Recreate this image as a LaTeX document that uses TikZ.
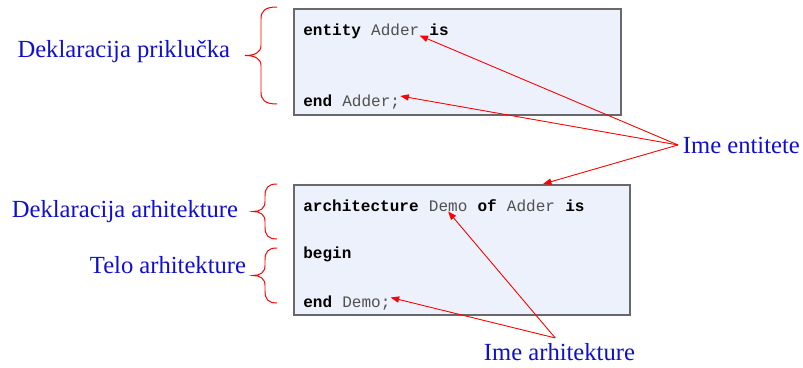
\documentclass[tikz,border=0pt]{standalone}
\usepackage{fontspec}
\setmainfont{Liberation Serif}
\setmonofont{Liberation Mono}
\usetikzlibrary{arrows.meta,calc,positioning}
\definecolor{vhBlue}{RGB}{16,16,204}
\definecolor{vhRed}{RGB}{255,0,0}
\definecolor{vhFill}{RGB}{237,241,251}
\definecolor{vhFrame}{RGB}{105,105,105}
\definecolor{vhIdent}{RGB}{80,80,80}

% curly brace opening to the right: x of the ends, top y, bottom y, depth
\newcommand{\curly}[4]{%
  \draw[brc] (#1,#2)
    .. controls ({#1-0.375*#4},#2) and ({#1-0.5*#4},{#2+4}) .. ({#1-0.5*#4},{#2+12})
    -- ({#1-0.5*#4},{(#2+#3)/2-10})
    .. controls ({#1-0.5*#4},{(#2+#3)/2-3}) and ({#1-0.7*#4},{(#2+#3)/2}) .. ({#1-#4},{(#2+#3)/2})
    .. controls ({#1-0.7*#4},{(#2+#3)/2}) and ({#1-0.5*#4},{(#2+#3)/2+3}) .. ({#1-0.5*#4},{(#2+#3)/2+10})
    -- ({#1-0.5*#4},{#3-12})
    .. controls ({#1-0.5*#4},{#3-4}) and ({#1-0.375*#4},#3) .. (#1,#3);}

\begin{document}
\begin{tikzpicture}[
  x=0.025cm, y=-0.025cm,
  codebox/.style={
    draw=vhFrame, line width=1.1pt, fill=vhFill,
    anchor=north west, inner sep=0pt
  },
  kw/.style={
    anchor=base west, inner sep=0pt,
    font=\fontsize{11.4}{13}\selectfont\ttfamily\bfseries
  },
  ident/.style={
    anchor=base west, inner sep=0pt, text=vhIdent,
    font=\fontsize{11.4}{13}\selectfont\ttfamily
  },
  lbl/.style={text=vhBlue, font=\fontsize{17.5}{20}\selectfont},
  brc/.style={draw=vhRed, line width=0.7pt},
  ptr/.style={-{Triangle[length=6pt,width=4.5pt]}, draw=vhRed, fill=vhRed, line width=0.6pt},
]
\useasboundingbox (0,0) rectangle (803,368);

%% Entity box
\node[codebox, minimum width=8.175cm, minimum height=2.65cm] (ent) at (293,8) {};
\node[kw]    (e-kw1) at ($(ent.north west)+(10,27)$) {entity};
\node[ident] (e-id1) at ([xshift=6.84pt]e-kw1.base east) {Adder};
\node[kw]    (e-kw2) at ([xshift=6.84pt]e-id1.base east) {is};
\node[kw]    (e-kw3) at ($(ent.north west)+(10,98)$) {end};
\node[ident] (e-id2) at ([xshift=6.84pt]e-kw3.base east) {Adder;};

%% Architecture box
\node[codebox, minimum width=8.4cm, minimum height=3.25cm] (arch) at (293,184) {};
\node[kw]    (a-kw1) at ($(arch.north west)+(10,27)$) {architecture};
\node[ident] (a-id1) at ([xshift=6.84pt]a-kw1.base east) {Demo};
\node[kw]    (a-kw2) at ([xshift=6.84pt]a-id1.base east) {of};
\node[ident] (a-id2) at ([xshift=6.84pt]a-kw2.base east) {Adder};
\node[kw]    (a-kw3) at ([xshift=6.84pt]a-id2.base east) {is};
\node[kw]    (a-kw4) at ($(arch.north west)+(10,74)$) {begin};
\node[kw]    (a-kw5) at ($(arch.north west)+(10,123)$) {end};
\node[ident] (a-id3) at ([xshift=6.84pt]a-kw5.base east) {Demo;};
\coordinate (archtop) at ($(arch.north west)+(250,0)$);

%% Braces and their labels
\curly{277}{7}{104}{32}
\curly{277}{184}{239}{24}
\curly{277}{248}{303}{24}
\node[lbl, anchor=base east] (decl-port) at (235,57)  {Deklaracija priklučka};
\node[lbl, anchor=base east] (decl-arch) at (243,217) {Deklaracija arhitekture};
\node[lbl, anchor=base east] (body-arch) at (251,273) {Telo arhitekture};

%% Name callouts
\node[lbl, anchor=base west] (ent-name)  at (678,153) {Ime entitete};
\node[lbl, anchor=base west] (arch-name) at (479,360) {Ime arhitekture};

\draw[ptr] (ent-name.west) -- (e-id1.south east);
\draw[ptr] (ent-name.west) -- ([yshift=4pt]e-id2.east);
\draw[ptr] (ent-name.west) -- (archtop);
\draw[ptr] ([xshift=-3pt]arch-name.north) -- (a-id1.south);
\draw[ptr] ([xshift=-3pt]arch-name.north) -- ([yshift=4pt]a-id3.east);

\end{tikzpicture}
\end{document}
